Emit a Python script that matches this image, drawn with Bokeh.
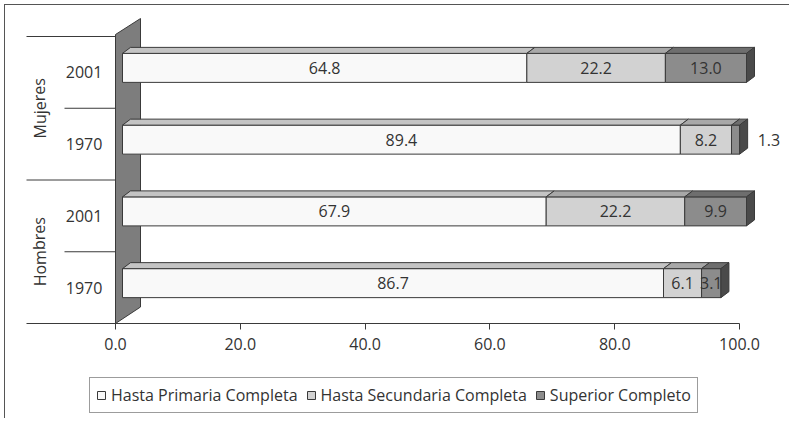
from bokeh.plotting import figure
from bokeh.models import (ColumnDataSource, Range1d, FixedTicker, PrintfTickFormatter,
                          Legend, LegendItem)
from bokeh.layouts import column
from bokeh.core.properties import value
from bokeh.embed import file_html
from bokeh.resources import INLINE

# ---------------- data ----------------
groups = ["Hombres", "Hombres", "Mujeres", "Mujeres"]
years = ["1970", "2001", "1970", "2001"]
primaria = [86.7, 67.9, 89.4, 64.8]
secundaria = [6.1, 22.2, 8.2, 22.2]
superior = [3.1, 9.9, 1.3, 13.0]
series_names = ["Hasta Primaria Completa", "Hasta Secundaria Completa", "Superior Completo"]
x_ticks = [0, 20, 40, 60, 80, 100]

# ---------------- styling ----------------
FONT = "Open Sans"
TXT = "#333333"
EDGE = "#3a3a3a"
front_colors = ["#f9f9f9", "#d2d2d2", "#8c8c8c"]
top_colors = ["#c4c4c4", "#a8a8a8", "#6e6e6e"]
side_color = "#4a4a4a"
wall_color = "#7d7d7d"

PX_X = 6.24    # px per x unit
PX_Y = 71.75   # px per category
FW, FH = 784, 318
x0 = -110 / PX_X
x1 = x0 + FW / PX_X
y0 = -0.5
y1 = y0 + FH / PX_Y

BAR_SHIFT = 7 / PX_X
BAR_H = 29 / PX_Y
FRONT_DY = 4.5 / PX_Y
DX = 8 / PX_X
DY = 6 / PX_Y

p = figure(frame_width=FW, frame_height=FH, output_backend="svg", toolbar_location=None,
           x_range=Range1d(x0, x1), y_range=Range1d(y0, y1),
           x_axis_location="below", y_axis_location=None,
           min_border_left=0, min_border_right=0, min_border_top=0, min_border_bottom=50)
p.extra_x_ranges = {"bars": Range1d(x0 - BAR_SHIFT, x1 - BAR_SHIFT)}
p.xgrid.visible = False
p.ygrid.visible = False
p.outline_line_color = None
p.background_fill_color = "white"
p.border_fill_color = "white"

n = len(years)
ys = [i + FRONT_DY for i in range(n)]

# ---- back wall ----
wall_depth_x = 25 / PX_X
p.patch([0, 0, wall_depth_x, wall_depth_x],
        [y0, n - 0.5 + 2 / PX_Y, n - 0.5 + 18 / PX_Y, y0 + 16.5 / PX_Y],
        fill_color=wall_color, line_color=EDGE, line_width=1)

# ---- category separators ----
long_x = -89 / PX_X
short_x = -51 / PX_X
for j in range(1, n + 1):
    yb = j - 0.5
    xs = long_x if j % 2 == 0 else short_x
    p.segment(x0=[xs], y0=[yb], x1=[0], y1=[yb], line_color=EDGE, line_width=1)

# ---- bars ----
series = [primaria, secundaria, superior]
cum = [0.0] * n
lab_x, lab_y, lab_t, lab_a = [], [], [], []
for k, vals in enumerate(series):
    lefts = cum[:]
    rights = [c + v for c, v in zip(cum, vals)]
    src = ColumnDataSource(dict(y=ys, left=lefts, right=rights))
    p.hbar(y="y", left="left", right="right", height=BAR_H, source=src,
           x_range_name="bars", fill_color=front_colors[k], line_color=EDGE, line_width=1)
    txs, tys = [], []
    for i in range(n):
        yt = ys[i] + BAR_H / 2
        txs.append([lefts[i], rights[i], rights[i] + DX, lefts[i] + DX])
        tys.append([yt, yt, yt + DY, yt + DY])
        if vals[i] < 2:
            lab_x.append(rights[i] + DX + 10 / PX_X)
            lab_a.append("left")
        else:
            lab_x.append((lefts[i] + rights[i]) / 2)
            lab_a.append("center")
        lab_y.append(ys[i])
        lab_t.append(f"{vals[i]:.1f}")
    p.patches(xs=txs, ys=tys, x_range_name="bars", fill_color=top_colors[k],
              line_color=EDGE, line_width=1)
    cum = rights

# side faces
sxs, sys_ = [], []
for i in range(n):
    yb = ys[i] - BAR_H / 2
    yt = ys[i] + BAR_H / 2
    e = cum[i]
    sxs.append([e, e, e + DX, e + DX])
    sys_.append([yb, yt, yt + DY, yb + DY])
p.patches(xs=sxs, ys=sys_, x_range_name="bars", fill_color=side_color,
          line_color=EDGE, line_width=1)

# value labels
lsrc = ColumnDataSource(dict(x=lab_x, y=lab_y, t=lab_t, a=lab_a))
p.text(x="x", y="y", text="t", text_align="a", text_baseline="middle", source=lsrc,
       x_range_name="bars", text_font=value(FONT), text_font_size="16px", text_color=TXT)

# category labels
p.text(x=[-2.1] * n, y=list(range(n)), text=years, text_align="right", text_baseline="middle",
       text_font=value(FONT), text_font_size="16px", text_color=TXT)
grp_names = []
grp_pos = []
for i, g in enumerate(groups):
    if g not in grp_names:
        grp_names.append(g)
        grp_pos.append([i])
    else:
        grp_pos[grp_names.index(g)].append(i)
p.text(x=[-76 / PX_X] * len(grp_names), y=[sum(v) / len(v) for v in grp_pos], text=grp_names,
       angle=1.5708, text_align="center", text_baseline="middle",
       text_font=value(FONT), text_font_size="16px", text_color=TXT)

# ---- axis ----
ax = p.xaxis[0]
ax.bounds = (long_x, 100)
ax.ticker = FixedTicker(ticks=x_ticks)
ax.formatter = PrintfTickFormatter(format="%.1f")
ax.minor_tick_line_color = None
ax.major_tick_in = 0
ax.major_tick_out = 6
ax.axis_line_color = EDGE
ax.major_tick_line_color = EDGE
ax.major_label_standoff = 8
ax.major_label_text_font = FONT
ax.major_label_text_font_size = "16px"
ax.major_label_text_color = TXT

# ---- legend strip (second figure directly below) ----
LH = 45
lf = figure(frame_width=FW, frame_height=LH, output_backend="svg", toolbar_location=None,
            x_range=Range1d(0, 1), y_range=Range1d(0, 1),
            x_axis_location=None, y_axis_location=None, min_border=0)
lf.xgrid.visible = False
lf.ygrid.visible = False
lf.outline_line_color = None
lf.border_fill_color = "white"
leg_items = []
for k in range(3):
    # legend swatch holder: one row placed outside the strip's visible range
    r = lf.hbar(y=[-5], left=[0], right=[1], height=0.5, fill_color=front_colors[k],
                line_color=EDGE, line_width=1)
    leg_items.append(LegendItem(label=series_names[k], renderers=[r]))
legend = Legend(items=leg_items, orientation="horizontal", location=(84, 5),
                border_line_color=EDGE, border_line_width=1,
                label_text_font=FONT, label_text_font_size="16px", label_text_color=TXT,
                glyph_width=10, glyph_height=10, label_standoff=5, spacing=8,
                padding=6, margin=0, label_height=16)
lf.add_layout(legend, "center")

layout = column(p, lf, spacing=0)
layout.styles = {"border-left": "1px solid #555555", "border-top": "1px solid #555555",
                 "margin-left": "4px", "margin-top": "4px"}

open("out.html", "w").write(file_html(layout, INLINE))
